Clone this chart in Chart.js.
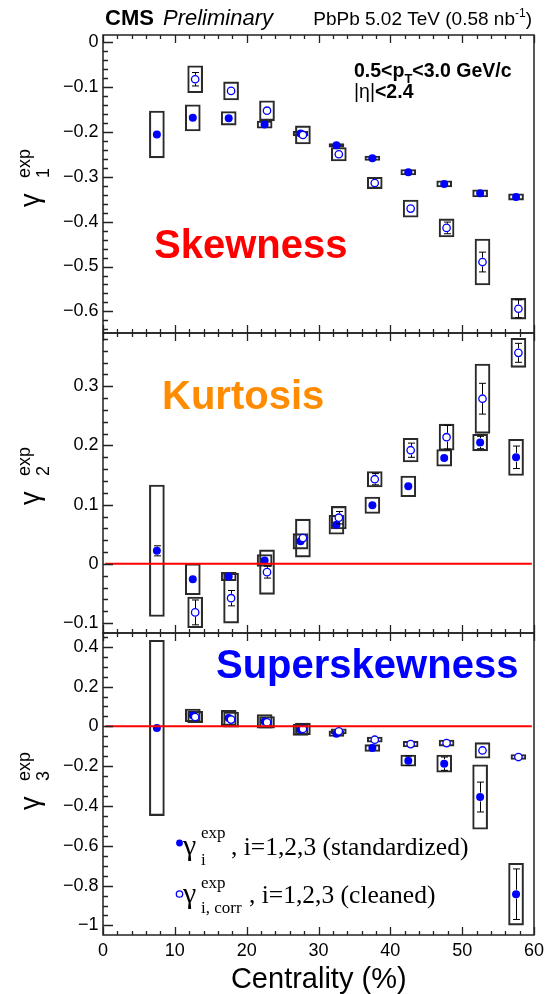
<!DOCTYPE html>
<html>
<head>
<meta charset="utf-8">
<script src="https://cdn.jsdelivr.net/npm/chart.js@4.4.1/dist/chart.umd.min.js"></script>
<style>
  html, body { margin: 0; padding: 0; background: #fff; }
  body { width: 547px; height: 994px; position: relative; overflow: hidden; }
  .pane { position: absolute; left: 0; width: 547px; }
</style>
</head>
<body>
<div class="pane" style="top:0px;height:334px"><canvas id="p1"></canvas></div>
<div class="pane" style="top:331px;height:303px"><canvas id="p2"></canvas></div>
<div class="pane" style="top:631px;height:363px"><canvas id="p3"></canvas></div>
<script>
// ---- data: centrality bins (bin centres, %) ----
const centrality     = [7.5, 12.5, 17.5, 22.5, 27.5, 32.5, 37.5, 42.5, 47.5, 52.5, 57.5];
const centralityCorr = [12.5, 17.5, 22.5, 27.5, 32.5, 37.5, 42.5, 47.5, 52.5, 57.5];

// skewness gamma_1
const g1Std      = [-0.206, -0.169, -0.170, -0.184, -0.204, -0.230, -0.259, -0.290, -0.316, -0.337, -0.345];
const g1StdStat  = [0.004, 0.004, 0.003, 0.003, 0.003, 0.003, 0.003, 0.003, 0.003, 0.004, 0.004];
const g1StdSys   = [0.052, 0.029, 0.015, 0.008, 0.005, 0.004, 0.005, 0.006, 0.007, 0.008, 0.007];
const g1Corr     = [-0.083, -0.109, -0.153, -0.207, -0.250, -0.314, -0.371, -0.414, -0.490, -0.594];
const g1CorrStat = [0.015, 0.006, 0.005, 0.005, 0.005, 0.006, 0.008, 0.013, 0.022, 0.020];
const g1CorrSys  = [0.030, 0.020, 0.022, 0.020, 0.015, 0.0125, 0.019, 0.020, 0.051, 0.023];

// kurtosis gamma_2
const g2Std      = [0.022, -0.026, -0.0215, 0.0056, 0.038, 0.066, 0.099, 0.131, 0.179, 0.205, 0.180];
const g2StdStat  = [0.0085, 0.004, 0.005, 0.004, 0.005, 0.006, 0.005, 0.006, 0.007, 0.0105, 0.019];
const g2StdSys   = [0.111, 0.026, 0.007, 0.010, 0.013, 0.016, 0.014, 0.0175, 0.014, 0.014, 0.0305];
const g2Corr     = [-0.082, -0.058, -0.014, 0.0435, 0.078, 0.143, 0.192, 0.214, 0.279, 0.3565];
const g2CorrStat = [0.021, 0.013, 0.010, 0.006, 0.0105, 0.0095, 0.012, 0.020, 0.026, 0.016];
const g2CorrSys  = [0.026, 0.042, 0.0375, 0.032, 0.019, 0.013, 0.020, 0.022, 0.0585, 0.0245];

// superskewness gamma_3
const g3Std      = [-0.008, 0.055, 0.042, 0.025, -0.017, -0.037, -0.109, -0.1725, -0.1875, -0.355, -0.843];
const g3StdStat  = [0.012, 0.010, 0.010, 0.010, 0.008, 0.008, 0.012, 0.024, 0.0335, 0.075, 0.127];
const g3StdSys   = [0.440, 0.032, 0.038, 0.034, 0.028, 0.014, 0.017, 0.028, 0.043, 0.162, 0.155];
const g3Corr     = [0.047, 0.034, 0.020, -0.013, -0.025, -0.067, -0.089, -0.084, -0.121, -0.154];
const g3CorrStat = [0.008, 0.008, 0.008, 0.008, 0.008, 0.008, 0.008, 0.008, 0.010, 0.008];
const g3CorrSys  = [0.028, 0.038, 0.029, 0.029, 0.013, 0.013, 0.014, 0.015, 0.039, 0.0125];

// axis tick labels
const xTicks  = [0, 10, 20, 30, 40, 50, 60];
const y1Ticks = [0, -0.1, -0.2, -0.3, -0.4, -0.5, -0.6];
const y2Ticks = [-0.1, 0, 0.1, 0.2, 0.3];
const y3Ticks = [0.4, 0.2, 0, -0.2, -0.4, -0.6, -0.8, -1];

// ---- styling ----
const SANS  = '"Liberation Sans", Arial, Helvetica, sans-serif';
const SERIF = '"Liberation Serif", "Times New Roman", serif';
const BLUE  = '#0000ff';
const BOX   = '#2a2a2a';
const CORR_SHIFT = 0.33;   // cleaned points sit just right of the bin centre
const MARKER_EDGE = 4.4;   // marker outer radius, error bars start outside it

function pts(xs, ys, shift) { return xs.map((x, i) => ({ x: x + shift, y: ys[i] })); }
function boxes(xs, ys, sys, shift) { return xs.map((x, i) => ({ x: x + shift, y: [ys[i] - sys[i], ys[i] + sys[i]] })); }

function fmt(v) {
  if (Math.abs(v) < 1e-9) return '0';
  const s = String(Number(Math.abs(v).toFixed(2)));
  return (v < 0 ? '\u2212' : '') + s;
}

// per-panel layout
const panels = {
  p1: { top: 0,   yMajor: y1Ticks, yMinor: 0.02, zero: false },
  p2: { top: 331, yMajor: y2Ticks, yMinor: 0.02, zero: true },
  p3: { top: 631, yMajor: y3Ticks, yMinor: 0.05, zero: true }
};

function txt(ctx, s, x, y, font, color) {
  ctx.font = font; ctx.fillStyle = color || '#000';
  ctx.textAlign = 'left'; ctx.textBaseline = 'alphabetic';
  ctx.fillText(s, x, y);
  return ctx.measureText(s).width;
}

// rotated y-axis title: gamma with stacked "exp" superscript and index subscript
function yTitle(ctx, sub, yStart, top) {
  ctx.save();
  ctx.translate(39, yStart - top);
  ctx.rotate(-Math.PI / 2);
  txt(ctx, '\u03b3', 0, 0, '27px ' + SANS);
  txt(ctx, 'exp', 29, -9.5, '18px ' + SANS);
  txt(ctx, sub, 29, 9.5, '18px ' + SANS);
  ctx.restore();
}

const panelText = {
  p1(ctx, top) {
    let x = 105;
    txt(ctx, 'CMS', x, 25, 'bold 22px ' + SANS);
    txt(ctx, 'Preliminary', 163, 25, 'italic 22px ' + SANS);
    // energy / luminosity label, right aligned
    ctx.font = '19px ' + SANS; const w1 = ctx.measureText('PbPb 5.02 TeV (0.58 nb').width;
    ctx.font = '12px ' + SANS; const w2 = ctx.measureText('-1').width;
    ctx.font = '19px ' + SANS; const w3 = ctx.measureText(')').width;
    x = 532 - (w1 + w2 + w3);
    x += txt(ctx, 'PbPb 5.02 TeV (0.58 nb', x, 25, '19px ' + SANS);
    x += txt(ctx, '-1', x, 17, '12px ' + SANS);
    txt(ctx, ')', x, 25, '19px ' + SANS);
    // kinematic cuts
    x = 354;
    x += txt(ctx, '0.5<p', x, 76.5, 'bold 19.5px ' + SANS);
    x += txt(ctx, 'T', x, 82.5, 'bold 13px ' + SANS);
    txt(ctx, '<3.0 GeV/c', x, 76.5, 'bold 19.5px ' + SANS);
    x = 354;
    x += txt(ctx, '|\u03b7|', x, 97.5, '19.5px ' + SANS);
    txt(ctx, '<2.4', x, 97.5, 'bold 19.5px ' + SANS);
    txt(ctx, 'Skewness', 154, 258 - top, 'bold 40px ' + SANS, '#ff0000');
    yTitle(ctx, '1', 207, top);
  },
  p2(ctx, top) {
    txt(ctx, 'Kurtosis', 162, 409 - top, 'bold 40px ' + SANS, '#ff8c00');
    yTitle(ctx, '2', 505, top);
  },
  p3(ctx, top) {
    txt(ctx, 'Superskewness', 216, 678 - top, 'bold 40px ' + SANS, BLUE);
    yTitle(ctx, '3', 810, top);
    // legend
    ctx.save();
    ctx.fillStyle = BLUE;
    ctx.beginPath(); ctx.arc(179.5, 843 - top, 3.4, 0, Math.PI * 2); ctx.fill();
    ctx.strokeStyle = BLUE; ctx.lineWidth = 1.3;
    ctx.beginPath(); ctx.arc(179.5, 894 - top, 3.2, 0, Math.PI * 2); ctx.stroke();
    ctx.restore();
    txt(ctx, '\u03b3', 183, 855 - top, '30px ' + SERIF);
    txt(ctx, 'exp', 201, 838 - top, '17px ' + SERIF);
    txt(ctx, 'i', 201, 865 - top, '17px ' + SERIF);
    txt(ctx, ', i=1,2,3 (standardized)', 231, 855 - top, '25.5px ' + SERIF);
    txt(ctx, '\u03b3', 183, 903 - top, '30px ' + SERIF);
    txt(ctx, 'exp', 201, 888 - top, '17px ' + SERIF);
    txt(ctx, 'i, corr', 201, 913 - top, '17px ' + SERIF);
    txt(ctx, ', i=1,2,3 (cleaned)', 249, 903 - top, '25.5px ' + SERIF);
    // x-axis title
    ctx.font = '29px ' + SANS; ctx.fillStyle = '#000';
    ctx.textAlign = 'center'; ctx.textBaseline = 'alphabetic';
    ctx.fillText('Centrality (%)', 318.75, 988 - top);
  }
};

// frame, inside tick marks, zero line and annotations
const decor = {
  id: 'decor',
  afterDatasetsDraw(chart) {
    const cfg = panels[chart.canvas.id];
    if (!cfg.zero) return;
    const ctx = chart.ctx, xs = chart.scales.x, ys = chart.scales.y;
    const yy = ys.getPixelForValue(0);
    ctx.save();
    ctx.strokeStyle = '#ff0000'; ctx.lineWidth = 2;
    ctx.beginPath();
    ctx.moveTo(xs.getPixelForValue(0.3), yy);
    ctx.lineTo(xs.getPixelForValue(59.7), yy);
    ctx.stroke();
    ctx.restore();
  },
  afterDraw(chart) {
    const cfg = panels[chart.canvas.id];
    const ctx = chart.ctx, xs = chart.scales.x, ys = chart.scales.y, a = chart.chartArea;
    ctx.save();
    ctx.strokeStyle = '#222'; ctx.lineWidth = 1.3;
    ctx.beginPath();
    // left axis ticks
    const isMajor = (v, list) => list.some(m => Math.abs(m - v) < 1e-6);
    const step = cfg.yMinor;
    for (let v = Math.ceil(ys.min / step - 1e-6) * step; v <= ys.max + 1e-9; v += step) {
      const p = Math.round(ys.getPixelForValue(v)) + 0.5;
      const len = isMajor(v, cfg.yMajor) ? 10 : 5;
      ctx.moveTo(a.left, p); ctx.lineTo(a.left + len, p);
    }
    // top and bottom ticks
    for (let v = 0; v <= 60; v += 2) {
      const p = Math.round(xs.getPixelForValue(v)) + 0.5;
      const len = (v % 10 === 0) ? 8 : 4;
      ctx.moveTo(p, a.bottom); ctx.lineTo(p, a.bottom - len);
      ctx.moveTo(p, a.top); ctx.lineTo(p, a.top + len);
    }
    ctx.stroke();
    ctx.lineWidth = 1.5;
    ctx.strokeRect(a.left, a.top, a.right - a.left, a.bottom - a.top);
    ctx.restore();
    panelText[chart.canvas.id](ctx, cfg.top);
  }
};

// statistical error bars, drawn just before each point set
const errorBars = {
  id: 'errorBars',
  beforeDatasetDraw(chart, args) {
    const ds = chart.data.datasets[args.index];
    if (!ds.errors) return;
    const ctx = chart.ctx, ys = chart.scales.y;
    ctx.save();
    ctx.strokeStyle = '#000'; ctx.lineWidth = 1;
    ctx.beginPath();
    args.meta.data.forEach((el, i) => {
      const v = ds.data[i].y, e = ds.errors[i];
      const x = Math.round(el.x) + 0.5, yc = el.y;
      const yHi = ys.getPixelForValue(v + e), yLo = ys.getPixelForValue(v - e);
      if (yc - yHi > MARKER_EDGE) {
        ctx.moveTo(x, yHi); ctx.lineTo(x, yc - MARKER_EDGE);
        ctx.moveTo(x - 3.5, yHi); ctx.lineTo(x + 3.5, yHi);
      }
      if (yLo - yc > MARKER_EDGE) {
        ctx.moveTo(x, yc + MARKER_EDGE); ctx.lineTo(x, yLo);
        ctx.moveTo(x - 3.5, yLo); ctx.lineTo(x + 3.5, yLo);
      }
    });
    ctx.stroke();
    ctx.restore();
  }
};

function makePanel(id, std, stdStat, stdSys, corr, corrStat, corrSys, yMin, yMax, yTicks, pad, showX) {
  const boxStyle = {
    type: 'bar', backgroundColor: 'rgba(0,0,0,0)', borderColor: BOX, borderWidth: 1.4,
    borderSkipped: false, barThickness: 15, grouped: false, order: 3
  };
  return new Chart(document.getElementById(id), {
    type: 'scatter',
    data: {
      datasets: [
        Object.assign({ label: 'sys std', data: boxes(centrality, std, stdSys, 0) }, boxStyle),
        Object.assign({ label: 'sys corr', data: boxes(centralityCorr, corr, corrSys, CORR_SHIFT) }, boxStyle),
        {
          label: 'standardized', type: 'scatter', data: pts(centrality, std, 0), errors: stdStat,
          pointStyle: 'circle', pointRadius: 4, pointBackgroundColor: BLUE, pointBorderWidth: 0,
          pointHoverRadius: 4, order: 2
        },
        {
          label: 'cleaned', type: 'scatter', data: pts(centralityCorr, corr, CORR_SHIFT), errors: corrStat,
          pointStyle: 'circle', pointRadius: 3.7, pointBackgroundColor: '#ffffff', pointBorderColor: BLUE,
          pointBorderWidth: 1.3, pointHoverRadius: 3.7, order: 1
        }
      ]
    },
    options: {
      responsive: true, maintainAspectRatio: false, animation: false, devicePixelRatio: 1, events: [],
      layout: { padding: pad, autoPadding: false },
      plugins: { legend: { display: false }, tooltip: { enabled: false } },
      scales: {
        x: {
          type: 'linear', min: 0, max: 60, offset: false, display: showX,
          grid: { display: false, drawTicks: false }, border: { display: false },
          afterBuildTicks: s => { s.ticks = xTicks.map(v => ({ value: v })); },
          afterFit: s => {
            s.height = showX ? 59 : 0;
            s.paddingLeft = 0; s.paddingRight = 0;
          },
          ticks: { font: { family: SANS, size: 18 }, color: '#000', padding: 5, maxRotation: 0, autoSkip: false,
                   callback: v => fmt(v) }
        },
        y: {
          type: 'linear', min: yMin, max: yMax,
          grid: { display: false, drawTicks: false }, border: { display: false },
          afterBuildTicks: s => { s.ticks = yTicks.map(v => ({ value: v })); },
          afterFit: s => {
            s.width = 103;
            s.paddingTop = 0; s.paddingBottom = 0;
          },
          ticks: { font: { family: SANS, size: 18 }, color: '#000', padding: 4.5, autoSkip: false,
                   callback: v => fmt(v) }
        }
      }
    },
    plugins: [errorBars, decor]
  });
}

makePanel('p1', g1Std, g1StdStat, g1StdSys, g1Corr, g1CorrStat, g1CorrSys,
          -0.648, 0.0155, y1Ticks, { top: 35, bottom: 1, left: 0, right: 13 }, false);
makePanel('p2', g2Std, g2StdStat, g2StdSys, g2Corr, g2CorrStat, g2CorrSys,
          -0.1168, 0.390, y2Ticks, { top: 2, bottom: 1, left: 0, right: 13 }, false);
makePanel('p3', g3Std, g3StdStat, g3StdSys, g3Corr, g3CorrStat, g3CorrSys,
          -1.048, 0.469, y3Ticks, { top: 2, bottom: 0, left: 0, right: 13 }, true);
</script>
</body>
</html>
